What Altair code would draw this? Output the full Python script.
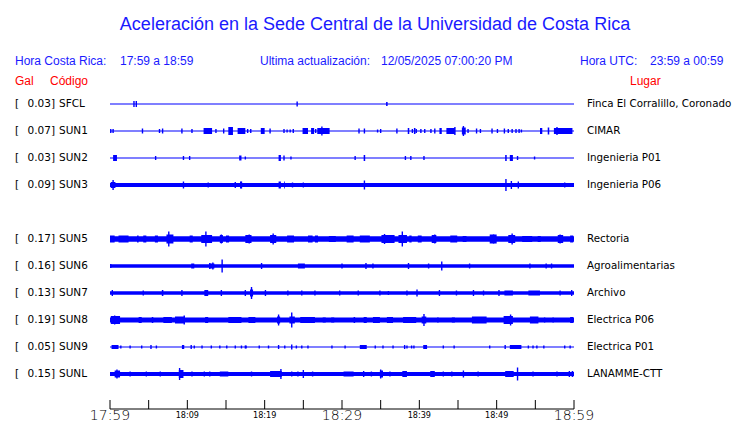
import altair as alt
import pandas as pd

# ---------------- data ----------------
TITLE = "Aceleración en la Sede Central de la Universidad de Costa Rica"
HORA_CR = "17:59 a 18:59"
ACTUALIZACION = "12/05/2025 07:00:20 PM"
HORA_UTC = "23:59 a 00:59"

stations = ["SFCL", "SUN1", "SUN2", "SUN3", "SUN5", "SUN6", "SUN7", "SUN8", "SUN9", "SUNL"]
rows = [0, 1, 2, 3, 5, 6, 7, 8, 9, 10]
gal = ["0.03", "0.07", "0.03", "0.09", "0.17", "0.16", "0.13", "0.19", "0.05", "0.15"]
places = ["Finca El Corralillo, Coronado", "CIMAR", "Ingenieria P01", "Ingenieria P06",
          "Rectoria", "Agroalimentarias", "Archivo", "Electrica P06", "Electrica P01",
          "LANAMME-CTT"]
# background noise half-amplitude (0 = thin line)
noise = [0, 0, 0, 2.0, 2.8, 1.8, 1.8, 2.4, 0, 2.0]

# (minute, half-amplitude)
spikes = {
    "SFCL": [(3.1, 3), (3.4, 3), (24.2, 2.5)],
    "SUN1": [(0.1, 2), (0.4, 2), (4.2, 2.5), (6.4, 2), (6.8, 2.5), (9.3, 2.5), (10.6, 2), (13.7, 2),
             (14.7, 2.5), (17.8, 2), (18.2, 2), (20.7, 2.5), (22.5, 2), (22.9, 1.5), (23.3, 1.5),
             (23.7, 2), (26.6, 2), (27.4, 4.5), (32.2, 2.5), (32.9, 2.5), (34.6, 1.5), (35.0, 2),
             (37.1, 2.5), (39.1, 2), (39.6, 2), (40.2, 2), (40.7, 2), (41.5, 2), (42.0, 2.5),
             (44.6, 4), (45.7, 5), (46.3, 2), (47.4, 2.5), (47.9, 2), (49.4, 2.5), (50.1, 2),
             (51.0, 2.5), (51.5, 2), (52.0, 2), (52.5, 2), (52.9, 2), (53.2, 1.5), (57.8, 4)],
    "SUN2": [(5.9, 2), (9.5, 2), (10.3, 2), (17.5, 1.5), (22.5, 2.5), (23.4, 1.5), (31.7, 2),
             (38.2, 2), (38.9, 2), (40.6, 2), (52.7, 2), (54.9, 1.5)],
    "SUN3": [(0.4, 5), (9.5, 3.5), (12.7, 2.5), (16.2, 3), (16.9, 3.5), (17.0, 3.5), (23.6, 2.5),
             (25.0, 2.5), (32.9, 4.5), (51.2, 6), (51.9, 4), (52.8, 3.5), (58.8, 2.5)],
    "SUN5": [(7.6, 7.5), (12.4, 7.5), (14.4, 4.5), (18.0, 4.5), (21.1, 5.5), (35.5, 5), (37.8, 7.5),
             (42.0, 4.5), (49.6, 4.5), (52.0, 5.5), (58.2, 4.5)],
    "SUN6": [(0.1, 2), (12.9, 3), (13.3, 3.5), (14.5, 6.5), (19.6, 3), (30.0, 2.5), (33.1, 3),
             (34.0, 2.5), (38.6, 3), (41.2, 2.5), (42.9, 4.5), (46.5, 2.5), (54.3, 2.5), (56.4, 2.5),
             (57.1, 2.5)],
    "SUN7": [(0.3, 3), (4.3, 2.5), (9.3, 3), (14.4, 3), (17.5, 3), (18.3, 6), (20.1, 3), (23.0, 2.5),
             (24.8, 2.5), (26.5, 2.5), (29.7, 2.5), (32.1, 2.5), (34.9, 2.5), (36.0, 2), (38.4, 2.5),
             (39.7, 3.5), (42.6, 3), (44.8, 2.5), (47.0, 3), (48.3, 2.5), (50.3, 3), (58.2, 2.5),
             (59.7, 3)],
    "SUN8": [(0.6, 4.5), (9.6, 4.5), (21.8, 5.5), (23.5, 7.5), (40.6, 6), (51.8, 5.5), (56.2, 2.5),
             (57.3, 2.5)],
    "SUN9": [(1.4, 1.5), (2.6, 1.5), (4.1, 1.5), (5.3, 2), (6.0, 1.5), (10.5, 2), (10.9, 1.5),
             (11.9, 1.5), (13.1, 1.5), (14.2, 1.5), (15.1, 1.5), (16.2, 1.5), (17.0, 1.5), (17.5, 1.5),
             (17.6, 1.5), (19.3, 1.5), (20.5, 1.5), (21.8, 2), (22.6, 1.5), (23.5, 2.5), (24.1, 1.5),
             (24.8, 1.5), (25.6, 1.5), (28.7, 1.5), (30.4, 1.5), (34.3, 1.5), (35.3, 1.5), (36.6, 1.5),
             (38.1, 2), (38.4, 1.5), (39.0, 1.5), (39.3, 1.5), (43.1, 1.5), (44.5, 1.5), (49.1, 1.5),
             (51.1, 2), (54.1, 1.5), (54.7, 1.5), (55.2, 1.5), (56.1, 1.5), (58.8, 1.5), (59.5, 1.5)],
    "SUNL": [(0.9, 4.5), (2.6, 2.5), (4.7, 2.5), (6.5, 2.5), (9.0, 6), (10.6, 2.5), (12.2, 2.5),
             (12.9, 2.5), (18.3, 2.5), (22.1, 5), (23.5, 2.5), (24.3, 2.5), (25.0, 4), (26.2, 2.5),
             (32.8, 3), (33.8, 2.5), (35.0, 4.5), (36.2, 2.5), (41.5, 3), (43.1, 2.5), (44.2, 2.5),
             (45.7, 3.5), (47.6, 2.5), (52.7, 6.5), (54.7, 2.5), (57.8, 2.5), (59.4, 3)],
}

# (start minute, end minute, half-amplitude)
bursts = {
    "SFCL": [(35.7, 35.9, 2)],
    "SUN1": [(12.1, 13.2, 3), (15.3, 15.9, 4), (16.5, 17.5, 3), (19.5, 20.0, 3), (24.9, 25.6, 3),
             (26.0, 26.4, 3), (26.8, 28.4, 3), (38.5, 38.7, 3), (39.3, 39.5, 3), (42.6, 42.9, 3),
             (43.5, 44.6, 3), (45.5, 46.0, 3.5), (55.6, 55.9, 3), (56.6, 56.8, 3.5), (57.4, 59.8, 3)],
    "SUN2": [(0.4, 0.9, 3), (16.7, 17.0, 2.5), (21.8, 22.1, 3), (32.8, 33.0, 3), (51.1, 51.3, 3),
             (51.7, 52.1, 3)],
    "SUN3": [(0.1, 0.7, 3), (21.8, 22.1, 3.5), (22.5, 22.6, 3.5)],
    "SUN5": [(0.0, 0.6, 3.5), (1.1, 2.4, 3.5), (3.5, 3.7, 3.5), (4.3, 4.7, 3.5), (5.8, 6.2, 3.5),
             (7.3, 8.2, 4.5), (10.3, 10.7, 3.5), (11.8, 13.2, 4), (14.2, 14.6, 4), (15.0, 15.4, 3.5),
             (17.5, 18.3, 4), (20.7, 21.5, 4), (22.9, 23.8, 3.5), (25.6, 26.2, 3.5), (26.5, 26.9, 3.5),
             (28.3, 29.2, 3), (30.6, 31.5, 3.5), (32.3, 33.6, 3.5), (35.1, 36.8, 4), (37.3, 38.4, 4),
             (38.7, 39.0, 3.5), (39.8, 40.3, 3.5), (41.6, 42.2, 4), (44.0, 44.9, 3.5), (45.6, 46.1, 3),
             (49.1, 50.0, 4.5), (51.5, 52.4, 4), (53.3, 54.6, 3), (55.3, 55.7, 3), (57.9, 58.6, 4),
             (59.5, 59.9, 3.5)],
    "SUN6": [(10.5, 10.9, 2.5), (12.8, 13.5, 2.5), (24.3, 25.2, 2.5)],
    "SUN7": [(6.7, 6.9, 3), (12.2, 12.7, 3), (18.1, 18.5, 3.5), (51.0, 52.1, 2.5), (54.1, 55.6, 2.5)],
    "SUN8": [(0.1, 1.3, 4), (3.7, 4.1, 3), (5.4, 5.6, 3), (6.9, 8.0, 3), (8.4, 9.7, 3.5),
             (12.3, 12.7, 3), (15.3, 17.0, 3), (17.9, 18.8, 3), (21.6, 22.0, 3.5), (23.2, 23.9, 3.5),
             (24.6, 26.5, 3), (27.5, 27.9, 2.5), (28.6, 29.0, 2.5), (31.5, 31.7, 3), (32.8, 33.2, 3),
             (34.0, 34.9, 3), (35.8, 36.6, 3), (37.9, 39.6, 3), (40.3, 40.9, 3.5), (42.3, 42.5, 2.5),
             (44.2, 44.6, 2.5), (46.8, 48.7, 3.5), (50.9, 52.1, 4), (54.3, 55.4, 3.5), (59.5, 59.9, 3)],
    "SUN9": [(0.2, 1.1, 2), (9.3, 9.6, 2), (32.3, 33.2, 2), (40.5, 41.0, 2), (51.7, 53.2, 2)],
    "SUNL": [(0.6, 1.3, 3.5), (8.9, 9.5, 4), (14.2, 15.3, 2.5), (20.7, 22.2, 3), (30.2, 31.5, 2.5),
             (34.9, 35.3, 3.5), (37.8, 38.4, 3), (41.5, 42.0, 3), (51.1, 52.2, 3), (59.7, 59.9, 3)],
}

tick_minutes = [0, 5, 10, 15, 20, 25, 30, 35, 40, 45, 50, 55, 60]
major_labels = [(0, "17:59"), (30, "18:29"), (60, "18:59")]
minor_labels = [(10, "18:09"), (20, "18:19"), (40, "18:39"), (50, "18:49")]

# ---------------- tables ----------------
ROW_STEP = 27
BLUE = "#0000ff"
HEAD_BLUE = "#1a1aff"
RED = "#ff0000"

info = pd.DataFrame({"station": stations, "row": rows, "gal": [g + "]" for g in gal],
                     "place": places, "noise": noise})
info["yc"] = info["row"] * ROW_STEP

thin = info[info["noise"] == 0].copy()
thin["t"], thin["t2"] = 0, 60
band = info[info["noise"] > 0].copy()
band["t"], band["t2"] = 0, 60
band["y1"] = band["yc"] - band["noise"]
band["y2"] = band["yc"] + band["noise"]

sp_rows, bu_rows = [], []
for s, r in zip(stations, rows):
    for t, a in spikes[s]:
        sp_rows.append({"t": t, "y1": r * ROW_STEP - a, "y2": r * ROW_STEP + a})
    for t1, t2, a in bursts[s]:
        bu_rows.append({"t": t1, "t2": t2, "y1": r * ROW_STEP - a, "y2": r * ROW_STEP + a})
sp = pd.DataFrame(sp_rows)
bu = pd.DataFrame(bu_rows)

X = lambda f: alt.X(f + ":Q", scale=alt.Scale(domain=[0, 60], range=[102, 566]), axis=None)
Y = lambda f: alt.Y(f + ":Q", scale=alt.Scale(domain=[0, 270], range=[96, 366]), axis=None)

thin_l = alt.Chart(thin).mark_rule(color=BLUE, strokeWidth=1.2).encode(
    x=X("t"), x2="t2", y=Y("yc"))
band_l = alt.Chart(band).mark_rect(color=BLUE).encode(
    x=X("t"), x2="t2", y=Y("y1"), y2="y2")
burst_l = alt.Chart(bu).mark_rect(color=BLUE).encode(
    x=X("t"), x2="t2", y=Y("y1"), y2="y2")
spike_l = alt.Chart(sp).mark_rule(color=BLUE, strokeWidth=1.4).encode(
    x=X("t"), y=Y("y1"), y2="y2")

lab = dict(font="DejaVu Sans", fontSize=10.5, color="black", baseline="middle")
br_l = alt.Chart(info).mark_text(align="left", **lab).encode(
    x=alt.value(7), y=Y("yc"), text=alt.value("["))
gal_l = alt.Chart(info).mark_text(align="right", **lab).encode(
    x=alt.value(47), y=Y("yc"), text="gal:N")
code_l = alt.Chart(info).mark_text(align="left", **lab).encode(
    x=alt.value(51), y=Y("yc"), text="station:N")
place_l = alt.Chart(info).mark_text(align="left", font="DejaVu Sans", fontSize=10.3,
                                    color="black", baseline="middle").encode(
    x=alt.value(579), y=Y("yc"), text="place:N")

def txt(s, x, y, size=12, color=HEAD_BLUE, align="left", font="Liberation Sans"):
    return alt.Chart(pd.DataFrame({"s": [s]})).mark_text(
        align=align, baseline="alphabetic", font=font, fontSize=size, color=color
    ).encode(x=alt.value(x), y=alt.value(y), text="s:N")

headers = [
    txt(TITLE, 367, 21.5, size=18, align="center"),
    txt("Hora Costa Rica:", 7, 57), txt(HORA_CR, 112, 57),
    txt("Ultima actualización:", 252, 57), txt(ACTUALIZACION, 373, 57),
    txt("Hora UTC:", 572, 57), txt(HORA_UTC, 642, 57),
    txt("Gal", 7, 77, color=RED), txt("Código", 42, 77, color=RED),
    txt("Lugar", 622, 77, color=RED),
]

ticks = pd.DataFrame({"t": tick_minutes})
axis_line = alt.Chart(pd.DataFrame({"t": [0], "t2": [60]})).mark_rule(
    color="black", strokeWidth=1).encode(x=X("t"), x2="t2", y=alt.value(401))
tick_l = alt.Chart(ticks).mark_rule(color="black", strokeWidth=1).encode(
    x=X("t"), y=alt.value(392), y2=alt.value(401))
maj = pd.DataFrame(major_labels, columns=["t", "s"])
mnr = pd.DataFrame(minor_labels, columns=["t", "s"])
maj_l = alt.Chart(maj).mark_text(font="DejaVu Sans", fontSize=14, fontWeight=200,
                                  baseline="alphabetic", color="black").encode(
    x=X("t"), y=alt.value(412), text="s:N")
mnr_l = alt.Chart(mnr).mark_text(font="DejaVu Sans Condensed", fontSize=9,
                                  baseline="alphabetic", color="black").encode(
    x=X("t"), y=alt.value(410), text="s:N")

chart = alt.layer(
    thin_l, band_l, burst_l, spike_l, br_l, gal_l, code_l, place_l, *headers,
    axis_line, tick_l, maj_l, mnr_l
).properties(
    width=724, height=415, autosize="none", padding=0, background="white"
).configure_view(stroke=None)

chart.save("out.html", embed_options={"renderer": "svg", "actions": False})
